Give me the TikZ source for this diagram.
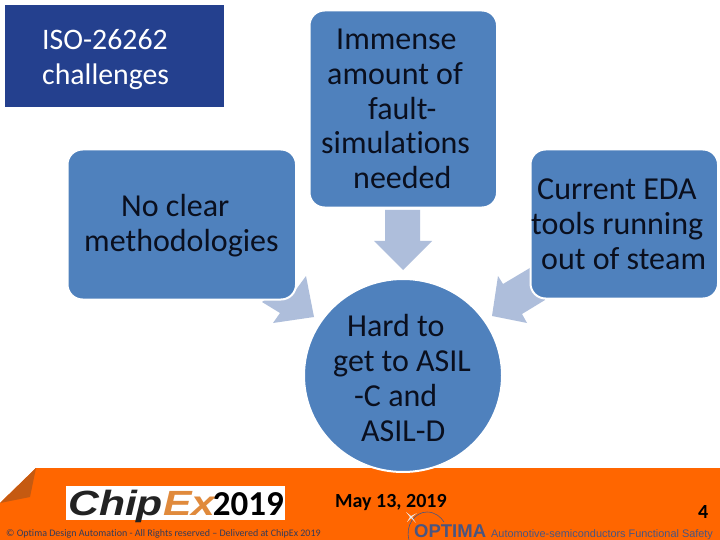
\documentclass[tikz,border=0pt]{standalone}
\usepackage{fontspec}
\usepackage{graphicx}
\usetikzlibrary{shapes.geometric}
\setmainfont[RawFeature={-liga}]{Carlito}
\newfontfamily\arialf{Liberation Sans}
\definecolor{boxblue}{HTML}{4F81BD}
\definecolor{arrowblue}{HTML}{AEBEDB}
\definecolor{headblue}{HTML}{24408E}
\definecolor{footorange}{HTML}{FF6600}
\definecolor{foldorange}{HTML}{C55A11}
\definecolor{inkdark}{HTML}{0A0F1E}
\definecolor{optblue}{HTML}{4A5580}
\tikzset{
  x=1bp,y=-1bp,
  card/.style={rectangle,rounded corners=15bp,fill=boxblue,draw=white,line width=2bp,inner sep=0pt,anchor=north west},
  bigtext/.style={font=\fontsize{32bp}{34.7bp}\selectfont,text=inkdark,inner sep=0pt,anchor=north west,align=left},
  blockarrow/.style={fill=arrowblue,draw=none},
  foot/.style={inner sep=0pt,anchor=base west}
}
\begin{document}
\begin{tikzpicture}
\useasboundingbox (0,0) rectangle (720,540);
\fill[white] (0,0) rectangle (720,540);
% footer
\fill[footorange] (0,503) -- (36,468) -- (720,468) -- (720,540) -- (0,540) -- cycle;
\fill[foldorange] (36,468) -- (0,503) -- (30,497) -- cycle;
% header
\node[rectangle,fill=headblue,minimum width=219bp,minimum height=102bp,inner sep=0pt,anchor=north west] (head) at (5,5) {};
\node[bigtext,font=\fontsize{29.8bp}{35bp}\selectfont,text=white] (headtext) at (42,29) {ISO-26262\\challenges};
% block arrows (under the cards)
\fill[blockarrow] (385,210) -- (420,210) -- (420,241) -- (432,241) -- (403,270) -- (374,241) -- (385,241) -- cycle;
\fill[blockarrow] (262,302) -- (280,313) -- (273,323) -- (314,317) -- (306,276) -- (295,291) -- (285,285) -- cycle;
\fill[blockarrow] (540,262) -- (503,284) -- (498,276) -- (492,316) -- (527,323) -- (522,314) -- (545,300) -- cycle;
% cards
\node[card,minimum width=228.5bp,minimum height=150bp] (left) at (66.5,148.5) {};
\node[card,minimum width=187.5bp,minimum height=197bp] (mid) at (308.5,9.5) {};
\node[card,minimum width=187.5bp,minimum height=149bp] (right) at (529.5,148.5) {};
\node[ellipse,fill=boxblue,draw=white,line width=2bp,minimum width=198bp,minimum height=193bp,inner sep=0pt] (goal) at (403,375.5) {};
% card texts
\node[bigtext] (lefttext) at (84,194) {\hspace*{37bp}No clear\\methodologies};
\node[bigtext] (midtext) at (321,29) {\hspace*{15bp}Immense\\\hspace*{6bp}amount of\\\hspace*{47bp}fault-\\simulations\\\hspace*{32bp}needed};
\node[bigtext] (righttext) at (531,179) {\hspace*{6bp}Current EDA\\tools running\\\hspace*{10bp}out of steam};
\node[bigtext] (goaltext) at (333,314.5) {\hspace*{14bp}Hard to\\get to ASIL\\\hspace*{21bp}-C and\\\hspace*{28bp}ASIL-D};
% logo
\node[rectangle,fill=white,minimum width=219bp,minimum height=34bp,inner sep=0pt,anchor=north west] (logo) at (66,486) {};
\node[foot,font=\arialf\bfseries\itshape\fontsize{35bp}{37bp}\selectfont] (chip) at (68,515) {\scalebox{1.22}[1]{\textcolor[HTML]{222222}{Chip}\textcolor[HTML]{E08A3C}{Ex}}};
\node[foot,font=\bfseries\fontsize{35bp}{35bp}\selectfont,text=black,anchor=base east] (year) at (284,515) {2019};
% footer texts
\node[foot,font=\bfseries\fontsize{20bp}{22bp}\selectfont,text=black] (date) at (335,507) {May 13, 2019};
\node[foot,font=\bfseries\fontsize{20bp}{22bp}\selectfont,text=black] (pagenum) at (698,518) {4};
\node[foot,font=\fontsize{10bp}{11bp}\selectfont,text=optblue!70!black] (copy) at (6,536) {© Optima Design Automation - All Rights reserved – Delivered at ChipEx 2019};
\node[foot,font=\arialf\fontsize{10.9bp}{12bp}\selectfont,text=optblue] (tagline) at (491,537.5) {Automotive-semiconductors Functional Safety};
\node[foot,font=\arialf\bfseries\fontsize{18.5bp}{20bp}\selectfont,text=optblue] (optima) at (414,537.5) {OPTIMA};
\draw[optblue,line width=0.6bp] (409,540) .. controls (405,525) and (415,512) .. (427,512) .. controls (435,512) and (441,517) .. (444,522);
\coordinate (star) at (412,517);
\fill[white!85!gray] (star) ++(-6,-5) -- ++(5,4) -- ++(6,-3) -- ++(-5,4) -- ++(4,6) -- ++(-5,-5) -- ++(-4,4) -- ++(3,-5) -- cycle;
\end{tikzpicture}
\end{document}
